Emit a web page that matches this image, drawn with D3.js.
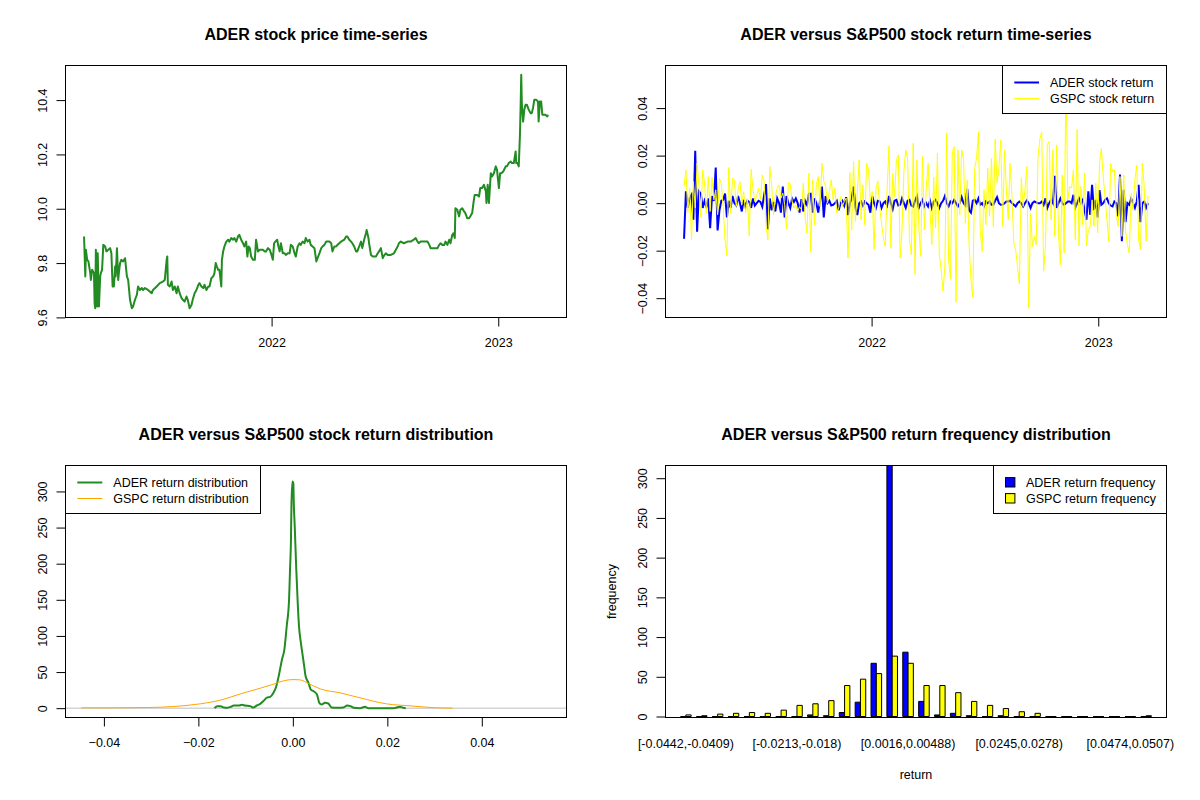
<!DOCTYPE html>
<html><head><meta charset="utf-8">
<script src="https://cdn.jsdelivr.net/npm/d3@7"></script>
<style>
body{margin:0;background:#fff}
svg{display:block}
text{font-family:"Liberation Sans",Arial,Helvetica,sans-serif;fill:#000}
</style>
</head><body>
<svg id="c" width="1200" height="800"></svg>
<script>
// ---------------- DATA ----------------
const seriesStart = "2021-03-05";        // first trading day
const returnStepDays = 3;                 // spacing of the return readings (days)

// ADER price: [days since seriesStart, price]
const aderPrice = [[0,9.898],[2,9.751],[3,9.849],[5,9.812],[7,9.806],[10,9.763],[11,9.738],[13,9.775],[16,9.763],[17,9.652],[18,9.634],[19,9.849],[21,9.640],[22,9.836],[24,9.640],[26,9.751],[27,9.763],[29,9.775],[31,9.867],[34,9.861],[36,9.843],[39,9.849],[42,9.855],[44,9.836],[46,9.714],[48,9.714],[50,9.787],[51,9.751],[53,9.855],[55,9.738],[56,9.763],[58,9.800],[60,9.812],[63,9.806],[66,9.818],[69,9.751],[71,9.738],[74,9.665],[77,9.634],[79,9.640],[82,9.665],[85,9.683],[87,9.714],[90,9.701],[93,9.708],[95,9.701],[98,9.708],[103,9.701],[109,9.689],[111,9.701],[117,9.714],[122,9.726],[127,9.732],[130,9.738],[133,9.812],[134,9.824],[135,9.720],[138,9.714],[141,9.732],[143,9.701],[146,9.714],[149,9.689],[151,9.714],[154,9.689],[157,9.671],[159,9.665],[162,9.658],[165,9.677],[167,9.665],[170,9.634],[173,9.646],[175,9.665],[178,9.689],[181,9.701],[184,9.720],[186,9.726],[189,9.714],[192,9.708],[194,9.720],[197,9.701],[200,9.714],[202,9.714],[205,9.744],[208,9.751],[210,9.763],[212,9.800],[214,9.787],[216,9.775],[218,9.775],[221,9.714],[222,9.812],[224,9.843],[226,9.861],[229,9.879],[232,9.886],[234,9.879],[237,9.892],[240,9.886],[242,9.892],[245,9.879],[248,9.898],[250,9.904],[253,9.886],[256,9.873],[258,9.861],[261,9.879],[263,9.824],[265,9.861],[267,9.855],[269,9.824],[272,9.812],[275,9.812],[277,9.886],[280,9.843],[283,9.849],[285,9.849],[288,9.849],[291,9.843],[293,9.843],[296,9.855],[299,9.849],[301,9.836],[304,9.812],[306,9.873],[308,9.879],[311,9.886],[313,9.861],[315,9.843],[317,9.873],[320,9.836],[323,9.836],[325,9.830],[328,9.836],[331,9.836],[333,9.867],[336,9.861],[339,9.836],[341,9.824],[344,9.861],[347,9.873],[349,9.867],[352,9.879],[355,9.873],[357,9.892],[360,9.879],[363,9.886],[365,9.867],[368,9.861],[371,9.855],[374,9.806],[376,9.818],[379,9.836],[382,9.855],[384,9.861],[387,9.867],[390,9.879],[392,9.879],[395,9.879],[398,9.873],[400,9.843],[403,9.861],[406,9.861],[408,9.867],[411,9.873],[414,9.879],[419,9.886],[422,9.898],[424,9.898],[427,9.886],[430,9.879],[432,9.873],[435,9.861],[438,9.843],[440,9.843],[443,9.861],[446,9.879],[448,9.855],[451,9.886],[454,9.910],[455,9.922],[458,9.892],[459,9.873],[462,9.830],[465,9.824],[467,9.824],[470,9.824],[473,9.836],[475,9.843],[478,9.855],[481,9.818],[482,9.824],[484,9.830],[486,9.836],[489,9.830],[494,9.830],[499,9.836],[505,9.861],[507,9.873],[510,9.879],[515,9.873],[521,9.879],[526,9.879],[531,9.886],[534,9.892],[537,9.879],[539,9.873],[542,9.879],[548,9.879],[553,9.879],[556,9.867],[558,9.855],[561,9.855],[564,9.855],[569,9.855],[572,9.867],[574,9.873],[577,9.867],[580,9.867],[582,9.879],[585,9.867],[588,9.886],[590,9.873],[593,9.904],[595,9.910],[597,9.892],[598,10.002],[601,9.996],[604,9.972],[606,9.996],[609,10.002],[612,9.990],[614,9.984],[617,9.965],[620,9.965],[622,9.972],[625,9.984],[627,10.021],[629,10.051],[633,10.051],[636,10.045],[638,10.076],[641,10.076],[644,10.088],[647,10.064],[648,10.021],[650,10.088],[652,10.021],[655,10.131],[657,10.119],[660,10.131],[663,10.156],[665,10.143],[668,10.076],[670,10.131],[672,10.131],[675,10.137],[679,10.156],[681,10.156],[684,10.168],[687,10.174],[689,10.168],[692,10.168],[695,10.211],[696,10.168],[698,10.168],[700,10.156],[702,10.278],[703,10.377],[704,10.493],[705,10.383],[707,10.321],[709,10.365],[711,10.383],[713,10.383],[716,10.365],[719,10.352],[721,10.352],[723,10.371],[725,10.401],[728,10.401],[731,10.395],[732,10.321],[734,10.395],[736,10.395],[738,10.346],[739,10.346],[743,10.346],[746,10.340],[747,10.346]];

// daily log returns read every returnStepDays days
const aderReturn = [
-0.015,0.005,-0.002,0.002,0.0035,-0.007,0.022,-0.012,0.005,0.004,
-0.002,0.001,-0.0015,0.002,-0.0105,0.003,0.001,0.015,-0.0115,-0.003,
0.001,0.0014,0.004,-0.006,0.001,-0.002,0.003,0.0,-0.001,0.003,
0.0,-0.0035,0.0014,-0.0015,0.001,0.0005,-0.002,0.002,-0.001,0.0,
0.001,0.0005,-0.0015,0.0035,0.008,-0.011,0.002,-0.003,0.0005,-0.0035,
0.002,0.0,-0.004,0.007,-0.006,0.003,0.0,-0.002,0.002,0.0005,
0.002,0.0,-0.004,0.0017,-0.0035,0.001,-0.0007,0.004,0.004,-0.004,
0.002,0.0,-0.004,0.001,0.007,-0.006,0.003,0.0,0.001,-0.001,
-0.0007,0.0,0.001,-0.003,0.0,0.001,-0.001,0.0025,-0.005,0.0,
0.002,0.007,-0.002,-0.005,0.0,0.0007,-0.001,0.0007,0.0,-0.0007,
-0.004,0.003,0.0,-0.002,0.001,0.0007,-0.002,0.0,0.0007,-0.001,
0.003,0.0,-0.0025,0.001,0.0014,-0.001,-0.0007,0.002,0.0,-0.002,
0.001,0.0014,-0.001,-0.0014,0.001,0.003,-0.002,0.0,0.0014,-0.0014,
0.0,-0.0014,0.001,-0.002,0.0007,0.0014,0.0,-0.002,0.0,0.001,
0.003,0.0,-0.0014,0.0007,0.0,0.0014,0.0,-0.0014,0.0,0.0025,
0.0,-0.001,0.006,-0.003,-0.004,0.001,0.0014,0.0,0.002,-0.0007,
0.0,-0.0014,0.0007,0.0,0.0007,-0.0007,-0.0007,0.001,0.0025,0.0,
-0.0007,-0.0007,0.0,0.0007,0.0007,0.001,0.0,-0.0007,-0.0014,0.0,
0.0007,0.0,-0.0014,0.0,0.0011,0.0,-0.002,0.0,0.0007,0.0003,
0.0,0.0,0.0007,-0.0007,0.002,-0.002,0.0,0.0014,0.0,0.0115,
-0.002,0.0,0.002,0.0,-0.0007,0.0,0.0007,0.0007,0.0,0.0035,
-0.002,0.0,0.002,0.0,0.0014,-0.003,-0.007,0.005,-0.005,0.0077,
-0.003,0.0014,-0.006,0.0055,-0.0007,0.0,0.0014,0.002,0.0,-0.001,
-0.0014,0.0007,0.0,-0.0056,0.012,-0.016,0.0056,-0.008,0.0,-0.0007,
0.002,0.0,-0.002,0.0007,0.0077,-0.008,0.0,0.0007,-0.002,0.0];

const gspcReturn = [
0.007,0.014,-0.004,0.0063,-0.0154,0.0091,-0.002,0.0168,0.007,-0.006,
0.014,0.0084,-0.004,0.0112,-0.0035,0.0109,0.0014,0.0056,-0.0049,0.0105,
0.0081,-0.0014,-0.0154,-0.0221,0.015,-0.0042,0.0105,0.0098,-0.0014,0.0056,
0.0091,-0.0007,0.0049,-0.0042,0.002,-0.0137,0.0143,0.0056,0.0007,0.0035,
0.0063,0.0014,0.0119,0.0091,-0.0091,-0.0154,0.0154,0.0077,-0.0049,0.0028,
0.0063,0.0077,0.0021,0.0042,-0.0007,-0.0108,0.0087,0.008,0.0007,-0.0021,
-0.0007,-0.0035,-0.0014,-0.0028,0.0084,-0.0059,-0.0126,0.0126,-0.0207,0.0098,
-0.0091,0.008,0.0112,-0.0014,0.0168,0.0091,0.007,0.0,0.0049,0.0098,
0.0014,0.0063,-0.0042,-0.0021,0.0028,-0.0014,0.0007,0.0021,-0.0231,0.0129,
-0.0112,0.0175,-0.0077,0.0042,0.0182,-0.007,0.0077,-0.0091,0.0168,0.014,
0.0007,0.0049,-0.0196,0.0063,0.0094,-0.0014,-0.0087,-0.0147,-0.0182,0.0056,
0.024,-0.0189,0.0126,0.0028,0.0182,0.0203,-0.0231,-0.0112,0.0133,0.0224,
0.0185,-0.0154,-0.0217,0.0252,-0.030,0.0182,-0.0098,-0.0224,0.0196,-0.0112,
0.0063,0.0168,-0.0028,-0.0175,0.011,-0.0105,0.021,-0.0217,-0.028,-0.037,
-0.0266,0.0296,-0.0238,-0.032,0.0217,0.0238,-0.0417,0.0224,-0.0049,0.0224,
0.0185,-0.0084,0.0098,-0.0175,-0.0324,-0.0398,0.0147,0.0189,0.030,-0.0119,
-0.0203,0.0056,-0.0091,0.0147,-0.0056,0.0189,-0.0098,0.027,0.0084,0.0147,
0.0266,-0.0098,0.0224,0.0056,-0.007,0.0168,0.0028,-0.0168,-0.0196,-0.027,
-0.034,0.0105,-0.0014,0.0056,0.0154,-0.0442,-0.0042,-0.0182,-0.014,-0.0175,
0.0196,0.027,0.030,-0.0287,-0.0182,0.025,0.0259,-0.007,0.0224,-0.014,
0.0245,-0.0126,-0.0259,0.0119,-0.021,0.054,0.0014,0.007,0.0063,0.014,
-0.0154,0.031,-0.018,0.007,-0.0091,0.0126,-0.018,-0.0112,-0.0098,0.0014,
-0.0098,0.0084,-0.0126,0.0168,0.023,0.0112,0.0021,-0.007,-0.016,0.0168,
0.0133,0.014,-0.0042,-0.0098,0.0112,-0.014,0.0119,-0.0119,-0.0175,-0.021,
0.0042,-0.0028,0.0098,0.016,-0.0154,-0.0196,0.0168,0.007,-0.016,0.003];

// kernel density estimates: [return, density]
const aderDensity = [[-0.0166,0],[-0.0160,2.8],[-0.0153,2.8],[-0.0146,0.9],[-0.0139,0.5],[-0.0132,1.8],[-0.0125,3.7],[-0.0115,3.7],[-0.0108,4.6],[-0.0101,3.7],[-0.0090,2.8],[-0.0084,0.9],[-0.0076,3.7],[-0.0069,6.0],[-0.0062,10.1],[-0.0055,14.7],[-0.0048,15.7],[-0.0041,21.2],[-0.0035,30.4],[-0.0030,44.2],[-0.0023,67.3],[-0.0018,81.1],[-0.0013,113.4],[-0.0008,150.2],[-0.0006,191.7],[-0.0004,233.2],[-0.0003,279.2],[-0.0001,313.8],[0.0001,311.5],[0.0002,283.8],[0.0004,251.6],[0.0007,196.3],[0.0010,150.2],[0.0013,113.4],[0.0017,90.3],[0.0020,76.5],[0.0024,58.1],[0.0027,44.2],[0.0033,35.0],[0.0038,25.8],[0.0044,23.5],[0.0051,18.9],[0.0056,7.4],[0.0061,5.1],[0.0068,7.4],[0.0075,6.5],[0.0082,0.9],[0.0093,0.5],[0.0107,0.9],[0.0115,3.7],[0.0122,2.8],[0.0129,0.5],[0.0142,0],[0.0153,1.8],[0.0160,0],[0.0213,0],[0.0227,1.8],[0.0234,0.5],[0.0239,0]];
const gspcDensity = [[-0.0448,0.5],[-0.0379,0.5],[-0.0308,0.9],[-0.0252,2.3],[-0.0196,6.0],[-0.0153,11.1],[-0.0111,19.8],[-0.0069,27.6],[-0.0041,33.2],[-0.0020,37.8],[0.0,39.6],[0.0015,39.2],[0.0033,34.1],[0.0058,26.7],[0.0100,21.2],[0.0142,14.3],[0.0198,6.0],[0.0248,3.2],[0.0283,1.4],[0.0304,0.5],[0.0338,0]];
const densityYLim = [0, 323];

// return frequency (30 bins of width ~0.00328 starting at -0.0442)
const aderFreq = [0,0,0,0,0,0,0,0,2,1,5,18,67,317,81,19,2,4,1,0,1,0,0,0,0,0,0,0,0,0];
const gspcFreq = [2,1,3,4,5,4,8,14,16,20,39,47,54,76,67,39,39,30,19,14,10,6,4,0,0,0,0,0,0,1];
const binLabelIndex = [0,7,14,21,28];
const binLabels = ["[-0.0442,-0.0409)","[-0.0213,-0.018)","[0.0016,0.00488)","[0.0245,0.0278)","[0.0474,0.0507)"];

const priceTicks = [9.6,9.8,10.0,10.2,10.4];
const returnTicks = [-0.04,-0.02,0,0.02,0.04];
const densityTicks = [0,50,100,150,200,250,300];
const freqTicks = [0,50,100,150,200,250,300];
const yearTicks = ["2022-01-01","2023-01-01"];

// ---------------- DRAW ----------------
const svg = d3.select("#c");
const FS = 12.5;
const P = {
  tl:{x0:65.5,x1:566.5,y0:65.5,y1:317.5},
  tr:{x0:665.5,x1:1166.5,y0:65.5,y1:317.5},
  bl:{x0:65.5,x1:566.5,y0:465.5,y1:717.5},
  br:{x0:665.5,x1:1166.5,y0:465.5,y1:717.5}
};
const ext = (lo,hi,f=0.04)=>{const d=(hi-lo)*f;return [lo-d,hi+d];};
const t0 = d3.utcParse("%Y-%m-%d")(seriesStart);
const dayDate = d => new Date(t0.getTime()+d*864e5);
const defs = svg.append("defs");
Object.entries(P).forEach(([k,p])=>{
  defs.append("clipPath").attr("id","clip-"+k).append("rect")
    .attr("x",p.x0).attr("y",p.y0).attr("width",p.x1-p.x0).attr("height",p.y1-p.y0);
});
function frame(p){
  svg.append("rect").attr("x",p.x0).attr("y",p.y0).attr("width",p.x1-p.x0).attr("height",p.y1-p.y0)
    .attr("fill","none").attr("stroke","#000").attr("stroke-width",1);
}
function title(p,txt){
  svg.append("text").attr("x",(p.x0+p.x1)/2).attr("y",p.y0-25.5).attr("text-anchor","middle")
    .attr("font-size",16).attr("font-weight","bold").text(txt);
}
function yAxis(p,scale,ticks,fmt){
  const g = svg.append("g").attr("transform",`translate(${p.x0},0)`)
    .call(d3.axisLeft(scale).tickValues(ticks).tickSize(9).tickFormat(fmt));
  g.select(".domain").remove();
  g.selectAll("line").attr("stroke","#000");
  g.selectAll("text").attr("x",0).attr("dy",0).attr("text-anchor","middle")
    .attr("font-size",FS).attr("fill","#000").attr("font-family","Liberation Sans, Arial, sans-serif")
    .attr("transform","translate(-19,0) rotate(-90)");
}
function xAxis(p,scale,ticks,fmt){
  const g = svg.append("g").attr("transform",`translate(0,${p.y1})`)
    .call(d3.axisBottom(scale).tickValues(ticks).tickSize(9).tickFormat(fmt));
  g.select(".domain").remove();
  g.selectAll("line").attr("stroke","#000");
  g.selectAll("text").attr("y",29.5).attr("dy",0).attr("font-size",FS).attr("fill","#000")
    .attr("font-family","Liberation Sans, Arial, sans-serif");
}
function lineLegend(x0,y0,x1,y1,items,lx0,lx1,tx){
  svg.append("rect").attr("x",x0).attr("y",y0).attr("width",x1-x0).attr("height",y1-y0)
    .attr("fill","#fff").attr("stroke","#000");
  items.forEach((it,i)=>{
    const yy = y0+17+16*i;
    svg.append("line").attr("x1",lx0).attr("x2",lx1).attr("y1",yy).attr("y2",yy)
      .attr("stroke",it.color).attr("stroke-width",it.w);
    svg.append("text").attr("x",tx).attr("y",yy+4.5).attr("font-size",FS).text(it.label);
  });
}
const f2 = d3.format(".2f");

// ---- Panel 1: price ----
{
  const p=P.tl;
  const dmin=d3.min(aderPrice,d=>d[0]), dmax=d3.max(aderPrice,d=>d[0]);
  const x=d3.scaleUtc().domain(ext(dmin,dmax).map(dayDate)).range([p.x0,p.x1]);
  const y=d3.scaleLinear().domain(ext(d3.min(aderPrice,d=>d[1]),d3.max(aderPrice,d=>d[1]))).range([p.y1,p.y0]);
  svg.append("path").datum(aderPrice).attr("clip-path","url(#clip-tl)")
    .attr("d",d3.line().x(d=>x(dayDate(d[0]))).y(d=>y(d[1])))
    .attr("fill","none").attr("stroke","#228B22").attr("stroke-width",2).attr("stroke-linejoin","round");
  frame(p);
  yAxis(p,y,priceTicks,d=>d3.format(".1f")(d));
  xAxis(p,x,yearTicks.map(d3.utcParse("%Y-%m-%d")),d3.utcFormat("%Y"));
  title(p,"ADER stock price time-series");
}

// ---- Panel 2: returns ----
{
  const p=P.tr;
  const n=aderReturn.length;
  const lastDay=(n-1)*returnStepDays;
  const x=d3.scaleUtc().domain(ext(0,lastDay).map(dayDate)).range([p.x0,p.x1]);
  const all=aderReturn.concat(gspcReturn);
  const y=d3.scaleLinear().domain(ext(d3.min(all),d3.max(all))).range([p.y1,p.y0]);
  const ln=d3.line().x((d,i)=>x(dayDate(i*returnStepDays))).y(d=>y(d));
  svg.append("path").datum(aderReturn).attr("clip-path","url(#clip-tr)").attr("d",ln)
    .attr("fill","none").attr("stroke","#0000FF").attr("stroke-width",2);
  svg.append("path").datum(gspcReturn).attr("clip-path","url(#clip-tr)").attr("d",ln)
    .attr("fill","none").attr("stroke","#FFFF00").attr("stroke-width",1);
  frame(p);
  yAxis(p,y,returnTicks,f2);
  xAxis(p,x,yearTicks.map(d3.utcParse("%Y-%m-%d")),d3.utcFormat("%Y"));
  lineLegend(1002.5,65.5,1166.5,113.5,[
    {label:"ADER stock return",color:"#0000FF",w:2},
    {label:"GSPC stock return",color:"#FFFF00",w:1}],1014.3,1039,1050);
  title(p,"ADER versus S&P500 stock return time-series");
}

// ---- Panel 3: density ----
{
  const p=P.bl;
  const all=aderReturn.concat(gspcReturn);
  const x=d3.scaleLinear().domain(ext(d3.min(all),d3.max(all))).range([p.x0,p.x1]);
  const y=d3.scaleLinear().domain(ext(densityYLim[0],densityYLim[1])).range([p.y1,p.y0]);
  svg.append("line").attr("clip-path","url(#clip-bl)").attr("x1",p.x0).attr("x2",p.x1)
    .attr("y1",y(0)).attr("y2",y(0)).attr("stroke","#BEBEBE").attr("stroke-width",1);
  const ln=d3.line().x(d=>x(d[0])).y(d=>y(d[1])).curve(d3.curveMonotoneX);
  svg.append("path").datum(aderDensity).attr("clip-path","url(#clip-bl)").attr("d",ln)
    .attr("fill","none").attr("stroke","#228B22").attr("stroke-width",2);
  svg.append("path").datum(gspcDensity).attr("clip-path","url(#clip-bl)").attr("d",ln)
    .attr("fill","none").attr("stroke","#FFA500").attr("stroke-width",1);
  frame(p);
  yAxis(p,y,densityTicks,d3.format("d"));
  xAxis(p,x,returnTicks,f2);
  lineLegend(65.5,465.5,260.5,513.5,[
    {label:"ADER return distribution",color:"#228B22",w:2},
    {label:"GSPC return distribution",color:"#FFA500",w:1}],77.3,102.3,113.3);
  title(p,"ADER versus S&P500 stock return distribution");
}

// ---- Panel 4: frequency bars ----
{
  const p=P.br;
  const nb=aderFreq.length;
  const x=d3.scaleLinear().domain(ext(1,3*nb,0.032)).range([p.x0,p.x1]);
  const y=d3.scaleLinear().domain([0,316]).range([716.5,p.y0]);
  const g=svg.append("g").attr("clip-path","url(#clip-br)");
  const bar=(u,v,fill)=>{
    const xa=x(u), xb=x(u+1), ya=y(0), yb=y(v);
    g.append("path").attr("d",`M${xa},${ya}H${xb}V${yb}H${xa}Z`)
      .attr("fill",fill).attr("stroke","#000").attr("stroke-width",1);
  };
  aderFreq.forEach((v,k)=>bar(3*k+1,v,"#0000FF"));
  gspcFreq.forEach((v,k)=>bar(3*k+2,v,"#FFFF00"));
  frame(p);
  yAxis(p,y,freqTicks,d3.format("d"));
  binLabelIndex.forEach((k,j)=>{
    svg.append("text").attr("x",x(3*k+2)).attr("y",747.5).attr("text-anchor","middle")
      .attr("font-size",FS).text(binLabels[j]);
  });
  svg.append("text").attr("x",(p.x0+p.x1)/2).attr("y",779).attr("text-anchor","middle")
    .attr("font-size",FS).text("return");
  svg.append("text").attr("transform",`translate(616,${(p.y0+p.y1)/2}) rotate(-90)`)
    .attr("text-anchor","middle").attr("font-size",FS).text("frequency");
  // legend
  svg.append("rect").attr("x",993.5).attr("y",465.5).attr("width",173).attr("height",48)
    .attr("fill","#fff").attr("stroke","#000");
  [["ADER return frequency","#0000FF"],["GSPC return frequency","#FFFF00"]].forEach((it,i)=>{
    const yy=482.3+16*i;
    svg.append("rect").attr("x",1005.5).attr("y",yy-4.7).attr("width",9.4).attr("height",9.4)
      .attr("fill",it[1]).attr("stroke","#000");
    svg.append("text").attr("x",1026).attr("y",yy+4.5).attr("font-size",FS).text(it[0]);
  });
  title(p,"ADER versus S&P500 return frequency distribution");
}
</script>
</body></html>
